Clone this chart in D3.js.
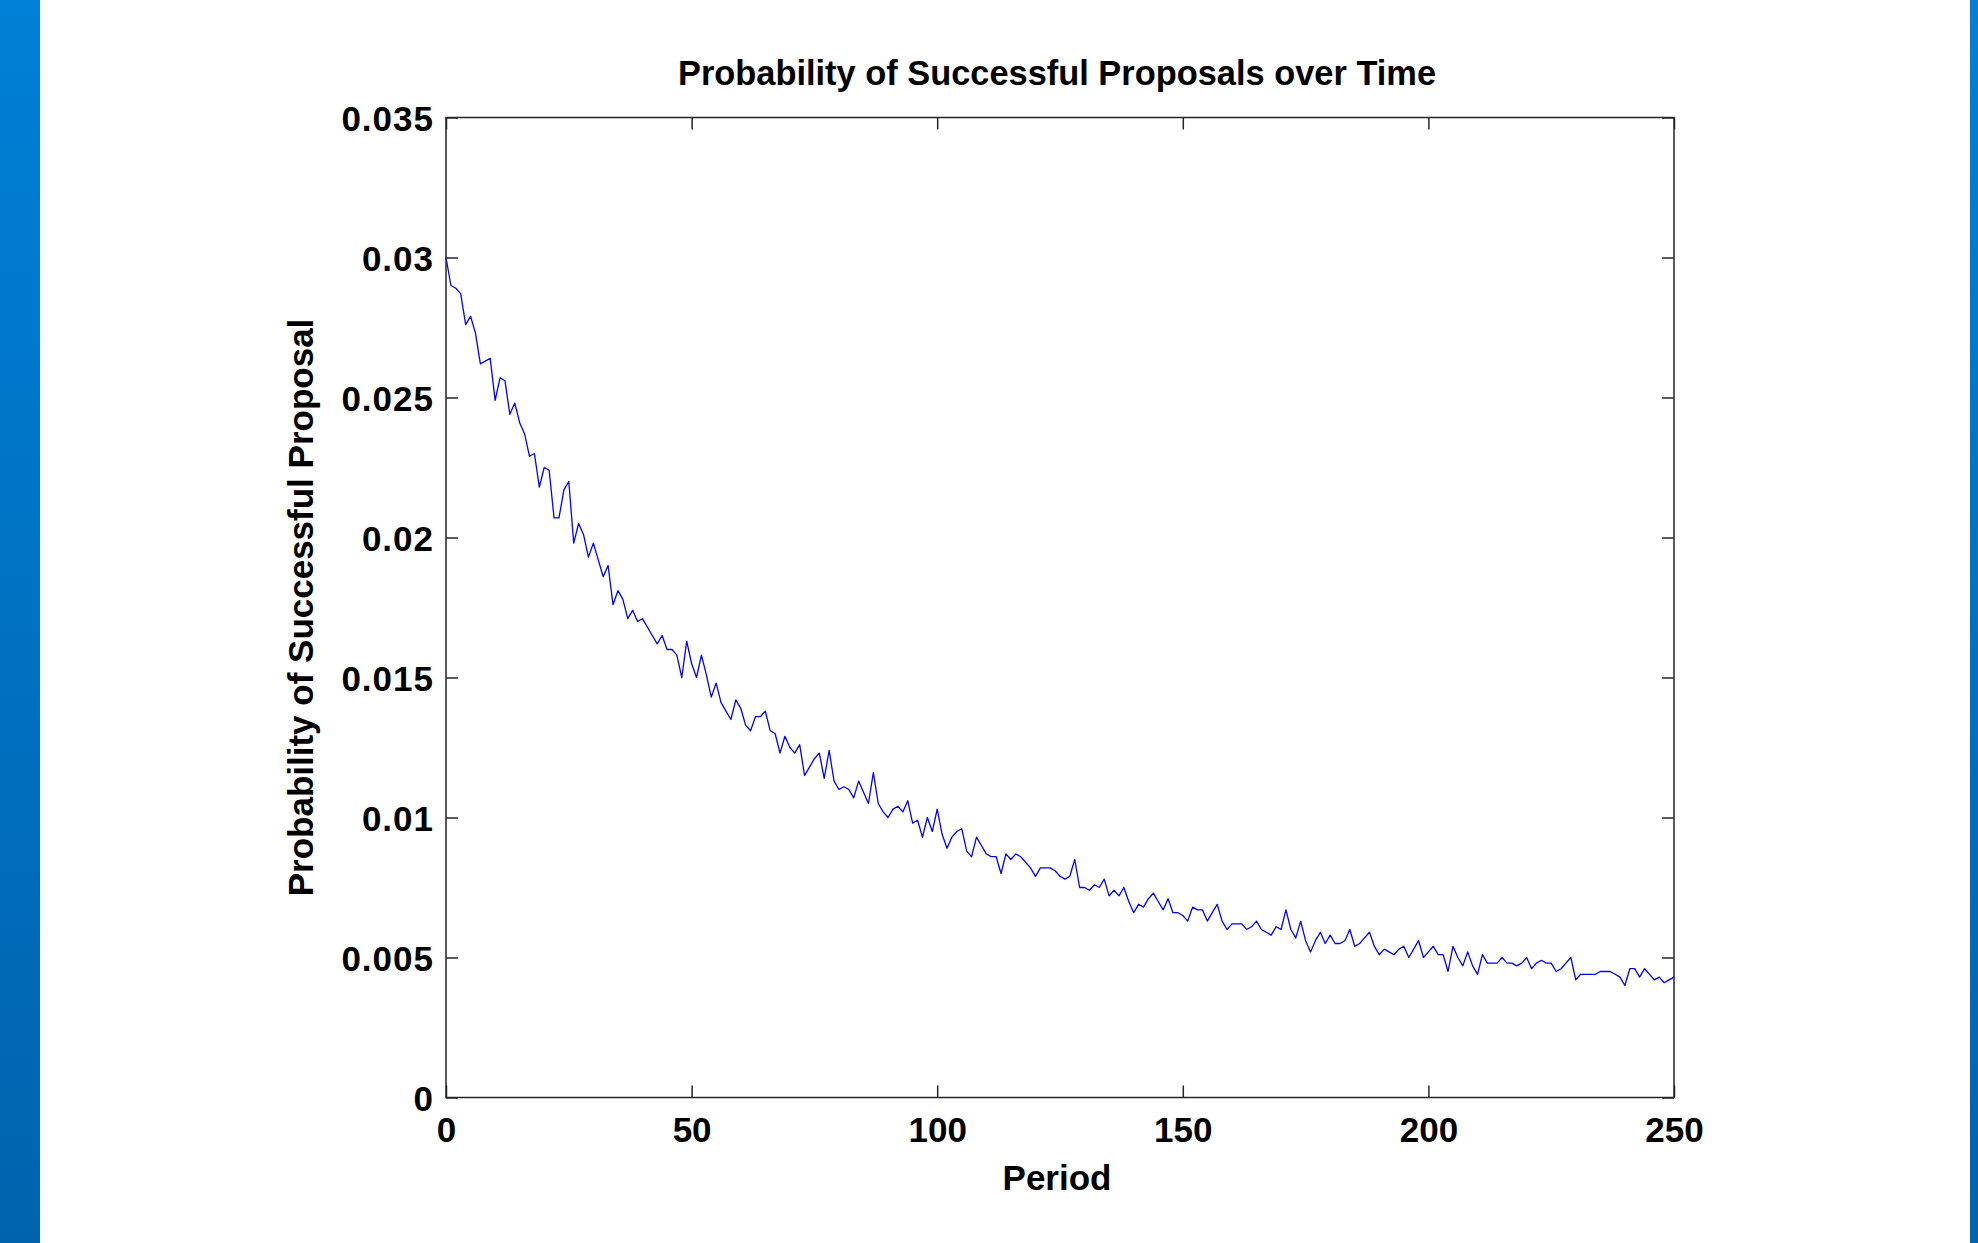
<!DOCTYPE html>
<html>
<head>
<meta charset="utf-8">
<script src="https://cdn.jsdelivr.net/npm/d3@7"></script>
<style>
  body { margin: 0; background: #fff; }
  svg { display: block; }
  text { font-family: "Liberation Sans", Arial, sans-serif; font-weight: bold; fill: #000; }
</style>
</head>
<body>
<svg class="chart"></svg>
<script>
// values, one per period (0..250)
const probability = [
  0.0300, 0.0290, 0.0289, 0.0287, 0.0276, 0.0279, 0.0273, 0.0262, 0.0263, 0.0264,
  0.0249, 0.0257, 0.0256, 0.0244, 0.0248, 0.0241, 0.0237, 0.0229, 0.0230, 0.0218,
  0.0225, 0.0224, 0.0207, 0.0207, 0.0217, 0.0220, 0.0198, 0.0205, 0.0201, 0.0193,
  0.0198, 0.0192, 0.0186, 0.0190, 0.0176, 0.0181, 0.0178, 0.0171, 0.0174, 0.0170,
  0.0171, 0.0168, 0.0165, 0.0162, 0.0165, 0.0160, 0.0160, 0.0158, 0.0150, 0.0163,
  0.0155, 0.0150, 0.0158, 0.0151, 0.0143, 0.0148, 0.0141, 0.0138, 0.0135, 0.0142,
  0.0139, 0.0133, 0.0131, 0.0136, 0.0136, 0.0138, 0.0131, 0.0130, 0.0123, 0.0129,
  0.0125, 0.0123, 0.0126, 0.0115, 0.0118, 0.0121, 0.0123, 0.0114, 0.0124, 0.0113,
  0.0110, 0.0111, 0.0110, 0.0107, 0.0113, 0.0109, 0.0105, 0.0116, 0.0105, 0.0102,
  0.0100, 0.0103, 0.0104, 0.0102, 0.0106, 0.0098, 0.0099, 0.0093, 0.0100, 0.0095,
  0.0103, 0.0094, 0.0089, 0.0093, 0.0095, 0.0096, 0.0088, 0.0086, 0.0093, 0.0090,
  0.0087, 0.0086, 0.0086, 0.0080, 0.0087, 0.0085, 0.0087, 0.0086, 0.0084, 0.0082,
  0.0079, 0.0082, 0.0082, 0.0082, 0.0081, 0.0079, 0.0078, 0.0079, 0.0085, 0.0075,
  0.0075, 0.0074, 0.0076, 0.0075, 0.0078, 0.0072, 0.0074, 0.0072, 0.0075, 0.0070,
  0.0066, 0.0069, 0.0068, 0.0071, 0.0073, 0.0070, 0.0067, 0.0071, 0.0066, 0.0066,
  0.0065, 0.0063, 0.0068, 0.0067, 0.0067, 0.0063, 0.0066, 0.0069, 0.0063, 0.0060,
  0.0062, 0.0062, 0.0062, 0.0060, 0.0061, 0.0063, 0.0060, 0.0059, 0.0058, 0.0061,
  0.0060, 0.0067, 0.0060, 0.0057, 0.0063, 0.0056, 0.0052, 0.0056, 0.0059, 0.0055,
  0.0058, 0.0055, 0.0055, 0.0056, 0.0060, 0.0054, 0.0055, 0.0057, 0.0059, 0.0054,
  0.0051, 0.0053, 0.0052, 0.0051, 0.0053, 0.0054, 0.0050, 0.0053, 0.0056, 0.0050,
  0.0052, 0.0054, 0.0051, 0.0051, 0.0045, 0.0054, 0.0050, 0.0047, 0.0052, 0.0047,
  0.0044, 0.0051, 0.0048, 0.0048, 0.0048, 0.0050, 0.0048, 0.0048, 0.0047, 0.0048,
  0.0050, 0.0046, 0.0048, 0.0049, 0.0048, 0.0048, 0.0045, 0.0046, 0.0048, 0.0050,
  0.0042, 0.0044, 0.0044, 0.0044, 0.0044, 0.0045, 0.0045, 0.0045, 0.0044, 0.0043,
  0.0040, 0.0046, 0.0046, 0.0043, 0.0046, 0.0044, 0.0042, 0.0043, 0.0041, 0.0042,
  0.0043
];
const periods = probability.map((v, i) => i);
const xTicks = [0, 50, 100, 150, 200, 250];
const yTicks = [0, 0.005, 0.01, 0.015, 0.02, 0.025, 0.03, 0.035];
const yTickLabels = ['0', '0.005', '0.01', '0.015', '0.02', '0.025', '0.03', '0.035'];

const startApp = () => {
  const viewBox = { width: 1978, height: 1243 };
  const margin = { top: 117.5, left: 446, bottom: 145.5, right: 304 };
  const width = viewBox.width - margin.left - margin.right;
  const height = viewBox.height - margin.top - margin.bottom;
  const fontSize = 35;
  const tickLen = 12;

  const svg = d3.select('.chart')
    .attr('width', viewBox.width)
    .attr('height', viewBox.height);

  // blue slide edges
  const grad = svg.append('defs').append('linearGradient')
    .attr('id', 'edge').attr('x1', 0).attr('y1', 0).attr('x2', 0).attr('y2', 1);
  grad.append('stop').attr('offset', '0%').attr('stop-color', '#0080d6');
  grad.append('stop').attr('offset', '100%').attr('stop-color', '#0063ae');
  svg.append('rect').attr('x', 0).attr('y', 0).attr('width', 40).attr('height', viewBox.height).attr('fill', 'url(#edge)');
  svg.append('rect').attr('x', 1970).attr('y', 0).attr('width', 8).attr('height', viewBox.height).attr('fill', 'url(#edge)');

  const chart = svg.append('g')
    .attr('transform', `translate(${margin.left}, ${margin.top})`);

  const xScale = d3.scaleLinear().domain([0, 250]).range([0, width]);
  const yScale = d3.scaleLinear().domain([0, 0.035]).range([height, 0]);

  const styleAxis = (g) => {
    g.select('.domain').remove();
    g.selectAll('.tick line').attr('stroke', '#262626').attr('stroke-width', 1.5);
    g.selectAll('.tick text').style('font-size', `${fontSize}px`).attr('fill', '#000');
  };

  chart.append('g')
    .attr('transform', `translate(0, ${height})`)
    .call(d3.axisBottom(xScale).tickValues(xTicks).tickSize(-tickLen).tickPadding(20))
    .call(styleAxis);

  chart.append('g')
    .call(d3.axisTop(xScale).tickValues(xTicks).tickSize(-tickLen).tickFormat(''))
    .call(styleAxis);

  chart.append('g')
    .call(d3.axisLeft(yScale).tickValues(yTicks).tickSize(-tickLen).tickPadding(12)
      .tickFormat((d, i) => yTickLabels[i]))
    .call(styleAxis)
    .selectAll('.tick text')
    .attr('dy', '0.36em')
    .style('letter-spacing', '1px');

  chart.append('g')
    .attr('transform', `translate(${width}, 0)`)
    .call(d3.axisRight(yScale).tickValues(yTicks).tickSize(-tickLen).tickFormat(''))
    .call(styleAxis);

  chart.append('rect')
    .attr('width', width)
    .attr('height', height)
    .attr('fill', 'none')
    .attr('stroke', '#262626')
    .attr('stroke-width', 1.5);

  const line = d3.line()
    .x((d, i) => xScale(periods[i]))
    .y(d => yScale(d));

  chart.append('path')
    .datum(probability)
    .attr('d', line)
    .attr('fill', 'none')
    .attr('stroke', '#0000ff')
    .attr('stroke-width', 1.3)
    .attr('stroke-linejoin', 'round');

  chart.append('text')
    .attr('x', width / 2 - 3)
    .attr('y', -32.5)
    .attr('text-anchor', 'middle')
    .style('font-size', '34.4px')
    .text('Probability of Successful Proposals over Time');

  chart.append('text')
    .attr('x', width / 2 - 3)
    .attr('y', height + 92.5)
    .attr('text-anchor', 'middle')
    .style('font-size', `${fontSize}px`)
    .text('Period');

  chart.append('text')
    .attr('transform', `translate(${313 - margin.left}, ${height / 2}) rotate(-90)`)
    .attr('text-anchor', 'middle')
    .style('font-size', `${fontSize}px`)
    .text('Probability of Successful Proposal');
};

window.onload = startApp;
</script>
</body>
</html>
